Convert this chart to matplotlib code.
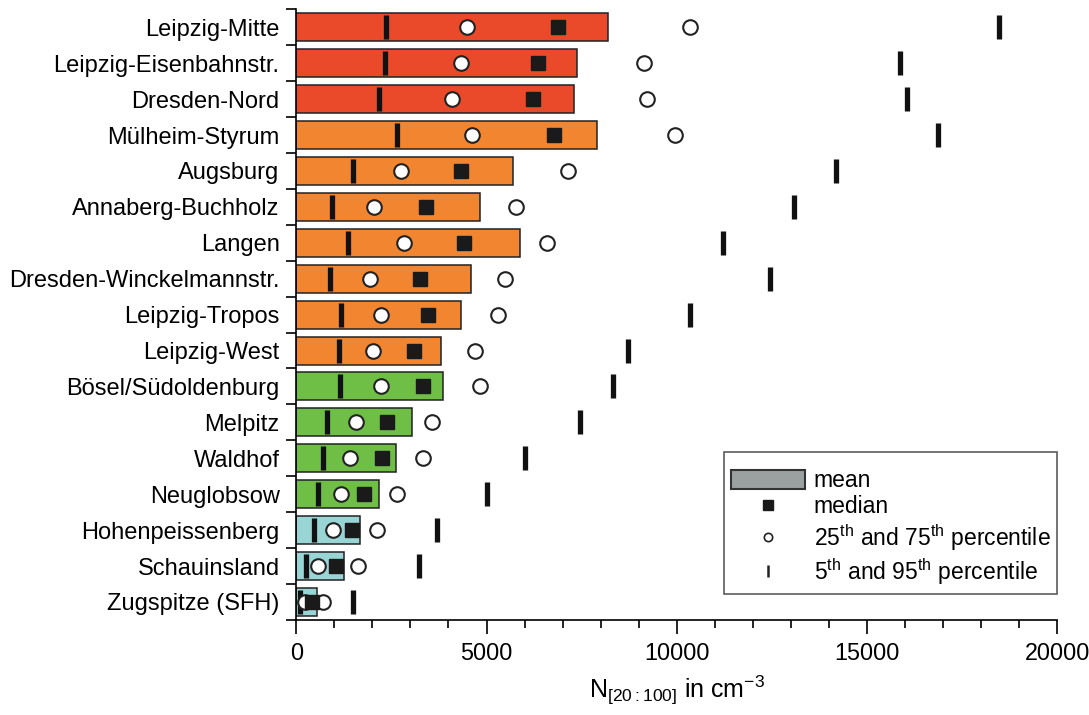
import matplotlib.pyplot as plt
from matplotlib.patches import Patch
from matplotlib.lines import Line2D
from matplotlib.ticker import MultipleLocator, FixedLocator

plt.rcParams['font.family'] = ['Liberation Sans', 'DejaVu Sans']
plt.rcParams['mathtext.fontset'] = 'custom'
plt.rcParams['mathtext.rm'] = 'Liberation Sans'
plt.rcParams['mathtext.it'] = 'Liberation Sans:italic'

stations = ['Leipzig-Mitte', 'Leipzig-Eisenbahnstr.', 'Dresden-Nord', 'Mülheim-Styrum',
            'Augsburg', 'Annaberg-Buchholz', 'Langen', 'Dresden-Winckelmannstr.',
            'Leipzig-Tropos', 'Leipzig-West', 'Bösel/Südoldenburg', 'Melpitz',
            'Waldhof', 'Neuglobsow', 'Hohenpeissenberg', 'Schauinsland', 'Zugspitze (SFH)']
mean = [8200, 7380, 7300, 7910, 5700, 4830, 5885, 4600, 4335, 3810, 3860, 3050,
        2630, 2180, 1680, 1260, 550]
median = [6880, 6360, 6230, 6780, 4335, 3415, 4415, 3260, 3470, 3100, 3340, 2390,
          2260, 1790, 1470, 1050, 420]
p25 = [4490, 4335, 4100, 4620, 2760, 2050, 2840, 1945, 2230, 2020, 2230, 1575,
       1420, 1180, 970, 580, 240]
p75 = [10350, 9140, 9220, 9960, 7150, 5780, 6600, 5490, 5310, 4700, 4830, 3570,
       3340, 2650, 2130, 1630, 710]
p5 = [2365, 2340, 2180, 2650, 1500, 950, 1370, 890, 1180, 1130, 1155, 815,
      710, 580, 470, 260, 100]
p95 = [18470, 15870, 16050, 16870, 14190, 13080, 11220, 12450, 10350, 8720, 8330, 7460,
       6020, 5020, 3700, 3230, 1500]
groups = ['red'] * 3 + ['orange'] * 7 + ['green'] * 4 + ['cyan'] * 3

colors = {'red': '#EA4A2A', 'orange': '#F28530', 'green': '#6FBF47', 'cyan': '#9AD5D6'}

fig = plt.figure(figsize=(10.89, 7.15), dpi=100)
ax = fig.add_axes([0.272, 0.133, 0.699, 0.854])

y = list(range(len(stations)))
ax.barh(y, mean, height=0.78, color=[colors[g] for g in groups],
        edgecolor='#222222', linewidth=1.1, zorder=2)

tick_kw = dict(marker='|', ms=17, mew=3.8, color='#111111', linestyle='none', zorder=3)
ax.plot(p5, y, **tick_kw)
ax.plot(p95, y, **tick_kw)
circ_kw = dict(marker='o', ms=10.5, mfc='white', mec='#222222', mew=1.5,
               linestyle='none', zorder=4)
ax.plot(p25, y, **circ_kw)
ax.plot(p75, y, **circ_kw)
ax.plot(median, y, marker='s', ms=10, color='#1a1a1a', linestyle='none', zorder=5)

ax.set_xlim(0, 20000)
ax.set_ylim(len(stations) - 0.5, -0.5)
ax.xaxis.set_major_locator(MultipleLocator(5000))
ax.xaxis.set_minor_locator(MultipleLocator(1000))
ax.tick_params(axis='x', which='major', length=10, width=1.2, labelsize=16.8, pad=6)
ax.tick_params(axis='x', which='minor', length=6, width=1.2)

ax.set_yticks(y)
ax.set_yticklabels(stations)
ax.yaxis.set_minor_locator(FixedLocator([i - 0.5 for i in range(len(stations) + 1)]))
ax.tick_params(axis='y', which='major', length=0, labelsize=17, pad=12)
ax.tick_params(axis='y', which='minor', length=7, width=1.2)

for s in ['top', 'right']:
    ax.spines[s].set_visible(False)
for s in ['left', 'bottom']:
    ax.spines[s].set_linewidth(1.2)

ax.set_xlabel('N$_{[20{:}100]}$ in cm$^{-3}$', fontsize=18, labelpad=6)

handles = [
    Patch(facecolor='#9BA1A1', edgecolor='#333333', linewidth=1.5),
    Line2D([], [], marker='s', ms=7, color='#1a1a1a', linestyle='none'),
    Line2D([], [], marker='o', ms=6, mfc='white', mec='#222222', mew=1.2, linestyle='none'),
    Line2D([], [], marker='|', ms=8, mew=1.8, color='#222222', linestyle='none'),
]
labels = ['mean', 'median', '25$^{\\mathrm{th}}$ and 75$^{\\mathrm{th}}$ percentile',
          '5$^{\\mathrm{th}}$ and 95$^{\\mathrm{th}}$ percentile']
leg = ax.legend(handles, labels, loc='lower right', bbox_to_anchor=(1.0, 0.043),
                fontsize=16.5, frameon=True, fancybox=False, handlelength=3.2,
                handleheight=0.9, borderpad=0.3, labelspacing=0.15, handletextpad=0.4,
                borderaxespad=0, title=' ', title_fontsize=6)
leg.get_frame().set_edgecolor('#333333')
leg.get_frame().set_linewidth(1.2)

fig.savefig('out.png', dpi=100)
